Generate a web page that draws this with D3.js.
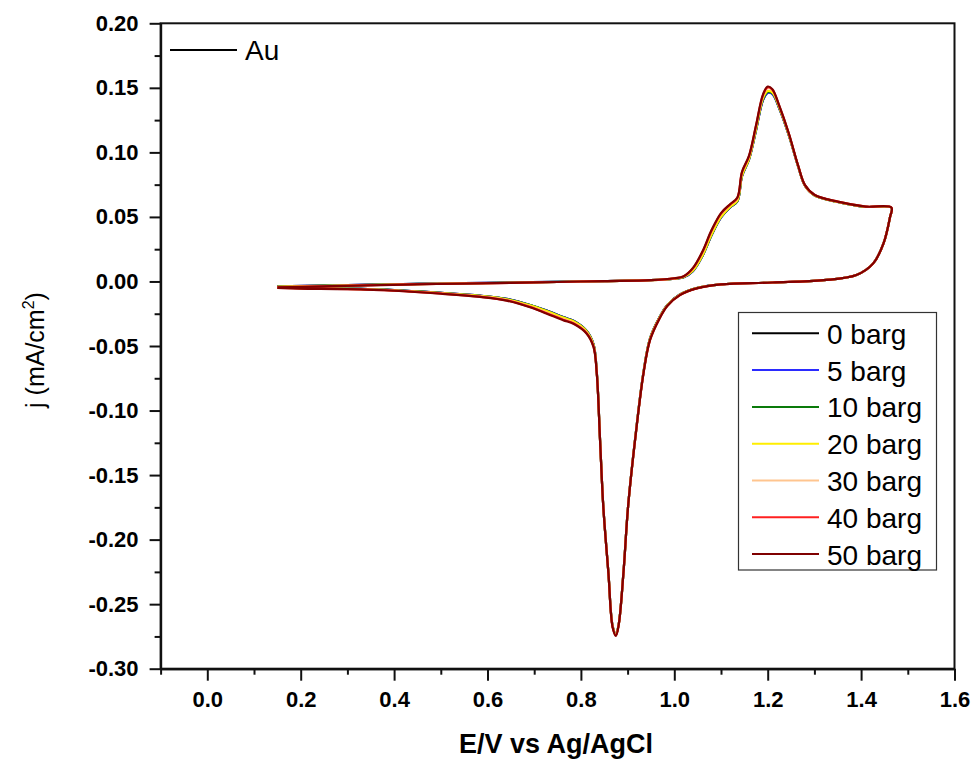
<!DOCTYPE html>
<html>
<head>
<meta charset="utf-8">
<script src="https://cdn.jsdelivr.net/npm/d3@7"></script>
<style>
  body { margin: 0; background: #fff; }
  svg { display: block; }
  text { font-family: "Liberation Sans", Arial, sans-serif; }
</style>
</head>
<body>
<div id="chart"></div>
<script>
// potential (V vs Ag/AgCl) - forward sweep then reverse sweep
const potentials = [
  0.15,0.25,0.35,0.45,0.55,0.65,0.75,0.85,0.95,1.00,1.02,1.04,1.06,1.08,1.10,1.12,1.135,1.145,1.16,1.175,1.19,1.20,1.21,1.225,1.245,1.265,1.28,1.30,1.35,1.41,1.465,
  1.462,1.448,1.426,1.39,1.32,1.21,1.10,1.05,1.012,0.985,0.968,0.948,0.934,0.916,0.901,0.891,0.881,0.875,0.868,0.859,0.848,0.841,0.834,0.827,0.812,0.785,0.762,0.727,0.691,0.641,0.584,0.50,0.40,0.30,0.20,0.15
];

const seriesNames = ["0 barg","5 barg","10 barg","20 barg","30 barg","40 barg","50 barg"];
const seriesColors = ["#000000","#2b2bff","#0a7a0a","#ffee00","#ffc58f","#ff2020","#7f0000"];

// current density j (mA/cm2), one per potential
const j0 = [
  -0.0038,-0.0032,-0.0025,-0.0018,-0.0013,-0.0008,-0.0003,0.0003,0.0010,0.0021,0.0032,0.0081,0.0196,0.0361,0.0496,0.0576,0.0621,0.0816,0.0946,0.1172,0.1408,0.1463,0.1455,0.1340,0.1136,0.0894,0.0740,0.0668,0.0616,0.0578,0.0571,
  0.0500,0.0295,0.0140,0.0050,0.0010,-0.0008,-0.0022,-0.0050,-0.0101,-0.0183,-0.0280,-0.0442,-0.0703,-0.1224,-0.1744,-0.2261,-0.2654,-0.2734,-0.2671,-0.2261,-0.1744,-0.1224,-0.0703,-0.0487,-0.0382,-0.0306,-0.0276,-0.0226,-0.0182,-0.0135,-0.0110,-0.0088,-0.0066,-0.0055,-0.0050,-0.0045
];
const j5 = [
  -0.0038,-0.0032,-0.0025,-0.0018,-0.0013,-0.0008,-0.0003,0.0003,0.0010,0.0021,0.0032,0.0080,0.0195,0.0360,0.0495,0.0575,0.0620,0.0815,0.0945,0.1170,0.1405,0.1460,0.1452,0.1338,0.1135,0.0893,0.0740,0.0668,0.0616,0.0578,0.0571,
  0.0500,0.0295,0.0140,0.0050,0.0010,-0.0008,-0.0022,-0.0050,-0.0101,-0.0183,-0.0280,-0.0442,-0.0703,-0.1224,-0.1744,-0.2261,-0.2654,-0.2734,-0.2671,-0.2261,-0.1744,-0.1224,-0.0703,-0.0487,-0.0382,-0.0306,-0.0276,-0.0226,-0.0182,-0.0135,-0.0110,-0.0088,-0.0066,-0.0055,-0.0050,-0.0045
];
const j10 = [
  -0.0039,-0.0033,-0.0026,-0.0019,-0.0014,-0.0009,-0.0003,0.0003,0.0010,0.0022,0.0033,0.0083,0.0198,0.0362,0.0498,0.0578,0.0622,0.0818,0.0948,0.1175,0.1412,0.1467,0.1458,0.1341,0.1138,0.0894,0.0740,0.0668,0.0616,0.0578,0.0571,
  0.0500,0.0295,0.0140,0.0050,0.0010,-0.0008,-0.0022,-0.0050,-0.0101,-0.0184,-0.0281,-0.0443,-0.0704,-0.1225,-0.1745,-0.2262,-0.2655,-0.2735,-0.2672,-0.2262,-0.1745,-0.1225,-0.0704,-0.0488,-0.0383,-0.0308,-0.0278,-0.0228,-0.0183,-0.0136,-0.0111,-0.0089,-0.0067,-0.0056,-0.0051,-0.0046
];
const j20 = [
  -0.0040,-0.0034,-0.0027,-0.0020,-0.0015,-0.0010,-0.0004,0.0003,0.0010,0.0022,0.0034,0.0085,0.0200,0.0365,0.0500,0.0580,0.0625,0.0820,0.0950,0.1180,0.1420,0.1475,0.1465,0.1345,0.1140,0.0895,0.0741,0.0668,0.0616,0.0578,0.0571,
  0.0500,0.0295,0.0140,0.0050,0.0010,-0.0008,-0.0022,-0.0050,-0.0102,-0.0185,-0.0282,-0.0445,-0.0705,-0.1225,-0.1745,-0.2262,-0.2655,-0.2735,-0.2672,-0.2262,-0.1745,-0.1225,-0.0705,-0.0490,-0.0385,-0.0310,-0.0280,-0.0230,-0.0185,-0.0138,-0.0112,-0.0090,-0.0068,-0.0057,-0.0052,-0.0047
];
const j30 = [
  -0.0043,-0.0036,-0.0029,-0.0021,-0.0016,-0.0010,-0.0004,0.0003,0.0010,0.0024,0.0038,0.0100,0.0222,0.0390,0.0522,0.0594,0.0642,0.0842,0.0966,0.1200,0.1438,0.1498,0.1482,0.1354,0.1146,0.0898,0.0744,0.0671,0.0618,0.0580,0.0572,
  0.0500,0.0295,0.0140,0.0050,0.0010,-0.0008,-0.0023,-0.0051,-0.0105,-0.0188,-0.0287,-0.0452,-0.0711,-0.1229,-0.1746,-0.2263,-0.2658,-0.2740,-0.2677,-0.2263,-0.1746,-0.1229,-0.0711,-0.0500,-0.0396,-0.0322,-0.0292,-0.0242,-0.0194,-0.0144,-0.0116,-0.0092,-0.0070,-0.0058,-0.0053,-0.0048
];
const j40 = [
  -0.0044,-0.0037,-0.0029,-0.0021,-0.0016,-0.0011,-0.0004,0.0003,0.0010,0.0024,0.0039,0.0102,0.0226,0.0395,0.0526,0.0597,0.0646,0.0846,0.0970,0.1205,0.1444,0.1504,0.1486,0.1357,0.1148,0.0899,0.0745,0.0672,0.0618,0.0580,0.0572,
  0.0500,0.0295,0.0140,0.0050,0.0010,-0.0008,-0.0023,-0.0052,-0.0105,-0.0189,-0.0288,-0.0453,-0.0712,-0.1230,-0.1747,-0.2264,-0.2658,-0.2742,-0.2678,-0.2264,-0.1747,-0.1230,-0.0712,-0.0503,-0.0399,-0.0326,-0.0296,-0.0246,-0.0197,-0.0146,-0.0118,-0.0093,-0.0071,-0.0059,-0.0054,-0.0049
];
const j50 = [
  -0.0045,-0.0038,-0.0030,-0.0022,-0.0017,-0.0011,-0.0004,0.0003,0.0010,0.0025,0.0040,0.0105,0.0230,0.0400,0.0530,0.0600,0.0650,0.0850,0.0975,0.1210,0.1450,0.1510,0.1490,0.1360,0.1150,0.0900,0.0746,0.0672,0.0618,0.0580,0.0572,
  0.0500,0.0295,0.0140,0.0050,0.0010,-0.0008,-0.0023,-0.0052,-0.0106,-0.0190,-0.0290,-0.0455,-0.0713,-0.1230,-0.1747,-0.2264,-0.2660,-0.2745,-0.2680,-0.2264,-0.1747,-0.1230,-0.0713,-0.0507,-0.0403,-0.0330,-0.0300,-0.0250,-0.0200,-0.0148,-0.0120,-0.0095,-0.0072,-0.0060,-0.0055,-0.0050
];

const xMajor = [0.0,0.2,0.4,0.6,0.8,1.0,1.2,1.4,1.6];
const xMinor = [-0.1,0.1,0.3,0.5,0.7,0.9,1.1,1.3,1.5];
const yMajor = [-0.30,-0.25,-0.20,-0.15,-0.10,-0.05,0.00,0.05,0.10,0.15,0.20];
const yMinor = [-0.275,-0.225,-0.175,-0.125,-0.075,-0.025,0.025,0.075,0.125,0.175];

const allJ = [j0, j5, j10, j20, j30, j40, j50];

function draw_cv(chartId) {
  const W = 971, H = 760;
  const left = 160.6, right = 954.5, top = 23.3, bottom = 668.7;

  let svg = d3.select(`#${chartId}`).append("svg")
    .attr("width", W).attr("height", H);

  let x = d3.scaleLinear().domain([-0.1, 1.6]).range([left, right]);
  let y = d3.scaleLinear().domain([-0.3, 0.2]).range([bottom, top]);

  // curves
  let line = d3.line()
    .x(d => x(d[0]))
    .y(d => y(d[1]))
    .curve(d3.curveCatmullRom.alpha(0.5));

  allJ.forEach(function (js, i) {
    let pts = potentials.map((e, k) => [e, js[k]]);
    svg.append("path")
      .datum(pts)
      .attr("fill", "none")
      .attr("stroke", seriesColors[i])
      .attr("stroke-width", 2.2)
      .attr("stroke-linejoin", "round")
      .attr("d", line);
  });

  // frame
  svg.append("rect")
    .attr("x", left).attr("y", top)
    .attr("width", right - left).attr("height", bottom - top)
    .attr("fill", "none").attr("stroke", "#111").attr("stroke-width", 2);

  // plain hyphen for negatives, like the original
  let fmt2 = d => d3.format(".2f")(d).replace("\u2212", "-");
  let fmt1 = d => d3.format(".1f")(d).replace("\u2212", "-");

  // y axis
  svg.append("g").attr("transform", "translate(" + left + ",0)")
    .call(d3.axisLeft(y).tickValues(yMajor).tickSize(11).tickSizeOuter(0).tickPadding(11)
      .tickFormat(fmt2));
  svg.append("g").attr("transform", "translate(" + left + ",0)")
    .call(d3.axisLeft(y).tickValues(yMinor).tickSize(6).tickSizeOuter(0).tickFormat(""));

  // x axis
  let xAx = svg.append("g").attr("transform", "translate(0," + bottom + ")")
    .call(d3.axisBottom(x).tickValues(xMajor).tickSize(12).tickSizeOuter(0).tickPadding(11)
      .tickFormat(fmt1));
  svg.append("g").attr("transform", "translate(0," + bottom + ")")
    .call(d3.axisBottom(x).tickValues(xMinor).tickSize(6).tickSizeOuter(0).tickFormat(""));

  svg.selectAll(".domain").attr("stroke", "#111").attr("stroke-width", 2);
  svg.selectAll(".tick line").attr("stroke", "#111").attr("stroke-width", 2);
  svg.selectAll(".tick text")
    .attr("fill", "#000")
    .style("font-family", "'Liberation Sans', Arial, sans-serif")
    .style("font-size", "22px")
    .style("font-weight", "bold");
  xAx.selectAll(".tick text").attr("dy", "0.71em");

  // axis titles
  svg.append("text")
    .attr("x", 556).attr("y", 753)
    .attr("text-anchor", "middle")
    .style("font-size", "27px").style("font-weight", "bold")
    .text("E/V vs Ag/AgCl");

  let yt = svg.append("text")
    .attr("transform", "translate(44,350) rotate(-90)")
    .attr("text-anchor", "middle")
    .style("font-size", "25px");
  yt.append("tspan").text("j (mA/cm");
  yt.append("tspan").attr("dy", -10).style("font-size", "16px").text("2");
  yt.append("tspan").attr("dy", 10).text(")");

  // "Au" label
  svg.append("line")
    .attr("x1", 170).attr("x2", 237).attr("y1", 50).attr("y2", 50)
    .attr("stroke", "#000").attr("stroke-width", 2);
  svg.append("text")
    .attr("x", 245).attr("y", 60)
    .style("font-size", "28px")
    .text("Au");

  // legend
  let lg = svg.append("g");
  lg.append("rect")
    .attr("x", 738.5).attr("y", 312.5)
    .attr("width", 198).attr("height", 257.5)
    .attr("fill", "#fff").attr("stroke", "#333").attr("stroke-width", 1.2);

  seriesNames.forEach(function (name, i) {
    let yy = 333.3 + i * 36.8;
    lg.append("line")
      .attr("x1", 752).attr("x2", 819).attr("y1", yy).attr("y2", yy)
      .attr("stroke", seriesColors[i]).attr("stroke-width", 2);
    lg.append("text")
      .attr("x", 827).attr("y", yy + 10.5)
      .style("font-size", "28px")
      .text(name);
  });
}

draw_cv("chart");
</script>
</body>
</html>
